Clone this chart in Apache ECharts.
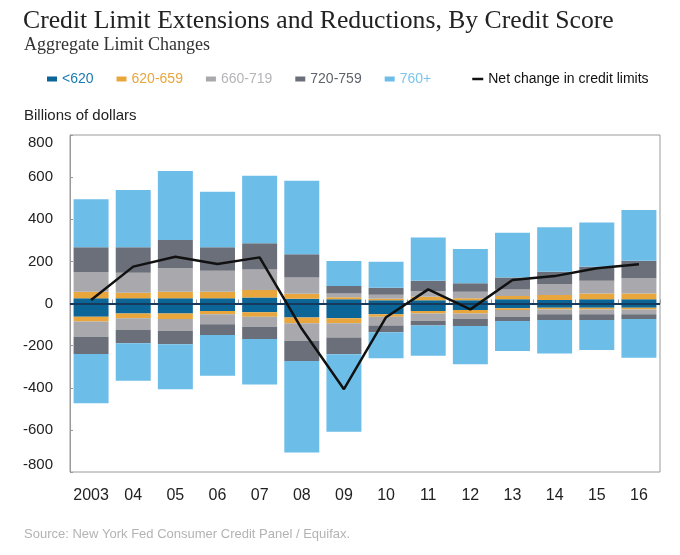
<!DOCTYPE html>
<html><head><meta charset="utf-8">
<script src="https://cdn.jsdelivr.net/npm/echarts@6/dist/echarts.min.js"></script>
<style>html,body{margin:0;padding:0;background:#fff}#c{width:680px;height:555px}</style>
</head><body><div id="c"></div>
<script>
const years = ['2003','04','05','06','07','08','09','10','11','12','13','14','15','16'];
const names = ['<620','620-659','660-719','720-759','760+'];
const colors = ['#0b6597','#e8a63c','#a9a8ad','#6b6f79','#6cbee9'];
const textColors = ['#1a7bb0','#e8a63c','#b5b5b8','#5f636c','#7cc6ec'];
// positive (extensions)
const pos620 = [25,25,25,25,29,22,20,15,16,15,20,17,20,20];
const pos659 = [31,26,31,31,35,24,10,8,16,10,16,23,28,28];
const pos719 = [92,95,111,100,98,77,18,19,27,31,31,51,60,72];
const pos759 = [119,121,135,111,124,111,35,33,49,40,57,60,67,83];
const pos760 = [228,272,327,264,321,349,119,123,205,163,212,211,210,241];
// negative (reductions)
const neg620 = [-63,-47,-47,-36,-42,-67,-70,-51,-36,-31,-23,-20,-20,-20];
const neg659 = [-23,-23,-27,-15,-21,-27,-24,-12,-11,-16,-8,-8,-8,-8];
const neg719 = [-72,-56,-55,-48,-47,-83,-68,-42,-35,-27,-32,-23,-23,-23];
const neg759 = [-82,-63,-65,-51,-59,-96,-79,-32,-23,-33,-20,-27,-27,-23];
const neg760 = [-234,-178,-213,-193,-215,-435,-368,-123,-143,-182,-143,-159,-143,-183];
// net change line
const netChange = [17,175,222,188,219,-120,-407,-65,67,-28,112,130,167,186];
const yTicks = [-800,-600,-400,-200,0,200,400,600,800];
const netName = 'Net change in credit limits';

const posSets = [pos620,pos659,pos719,pos759,pos760];
const negSets = [neg620,neg659,neg719,neg759,neg760];
const series = [];
for (let i=0;i<5;i++){
  series.push({name:names[i],type:'bar',stack:'s',data:posSets[i],barCategoryGap:'17%',itemStyle:{color:colors[i]},emphasis:{disabled:true}});
  series.push({name:names[i],type:'bar',stack:'s',data:negSets[i],barCategoryGap:'17%',itemStyle:{color:colors[i]},emphasis:{disabled:true}});
}
series.push({name:netName,type:'line',data:netChange,symbol:'none',z:10,
  lineStyle:{color:'#111',width:2.5},itemStyle:{color:'#111'},
  markLine:{silent:true,symbol:'none',label:{show:false},lineStyle:{color:'#173a5c',width:2,type:'solid'},data:[{yAxis:0}]}});

const legendData = names.map((n,i)=>({name:n,icon:'rect',textStyle:{color:textColors[i]}}));

const chart = echarts.init(document.getElementById('c'));
chart.setOption({
  animation:false,
  backgroundColor:'#fff',
  title:[
    {text:'Credit Limit Extensions and Reductions, By Credit Score',left:18,top:3,
     textStyle:{fontFamily:'Liberation Serif',fontSize:25.7,fontWeight:'normal',color:'#222'}},
    {text:'Aggregate Limit Changes',left:19,top:31,
     textStyle:{fontFamily:'Liberation Serif',fontSize:18,fontWeight:'normal',color:'#333'}},
    {text:'Billions of dollars',left:19,top:103,
     textStyle:{fontFamily:'Liberation Sans',fontSize:15,fontWeight:'normal',color:'#222'}},
    {text:'Source: New York Fed Consumer Credit Panel / Equifax.',left:19,top:523,
     textStyle:{fontFamily:'Liberation Sans',fontSize:13,fontWeight:'normal',color:'#b3b3b3'}}
  ],
  legend:[
    {data:legendData,left:42,top:67,itemWidth:10,itemHeight:5,itemGap:23,
     textStyle:{fontFamily:'Liberation Sans',fontSize:14}},
    {data:[{name:netName,itemStyle:{opacity:0},lineStyle:{width:2.5,color:'#111'}}],left:466,top:67,itemWidth:11,itemHeight:5,
     textStyle:{fontFamily:'Liberation Sans',fontSize:14,color:'#111'}}
  ],
  grid:{left:70,right:20,top:135,bottom:83,show:true,borderColor:'#9a9a9a',borderWidth:1,backgroundColor:'transparent'},
  xAxis:{type:'category',data:years,
    axisLine:{show:true,lineStyle:{color:'#9a9a9a'}},
    axisTick:{show:true,inside:true,length:4,lineStyle:{color:'#9a9a9a'}},
    axisLabel:{interval:0,margin:16,fontFamily:'Liberation Sans',fontSize:16,color:'#222'}},
  yAxis:{type:'value',min:-800,max:800,interval:200,
    axisLine:{show:true,lineStyle:{color:'#9a9a9a'}},
    axisTick:{show:true,inside:true,length:3,lineStyle:{color:'#9a9a9a'}},
    splitLine:{show:false},
    axisLabel:{margin:17,fontFamily:'Liberation Sans',fontSize:15,color:'#222',
      verticalAlignMaxLabel:'top',verticalAlignMinLabel:'bottom',
      customValues:yTicks}},
  series:series
});
</script></body></html>
